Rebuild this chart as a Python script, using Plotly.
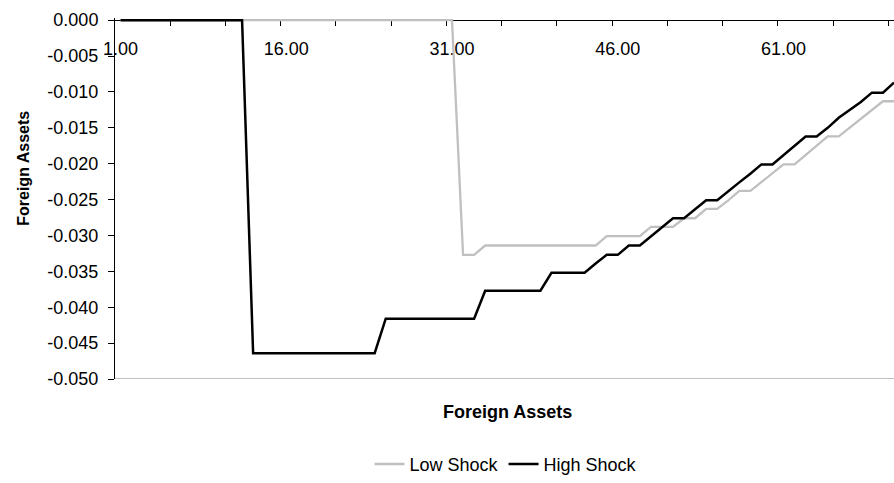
import plotly.graph_objects as go

periods = list(range(1, 72))

low_shock = [
    0, 0, 0, 0, 0, 0, 0, 0, 0, 0,
    0, 0, 0, 0, 0, 0, 0, 0, 0, 0,
    0, 0, 0, 0, 0, 0, 0, 0, 0, 0,
    0, -0.0327, -0.0327, -0.0314, -0.0314, -0.0314, -0.0314, -0.0314, -0.0314, -0.0314,
    -0.0314, -0.0314, -0.0314, -0.0314, -0.0301, -0.0301, -0.0301, -0.0301, -0.0288, -0.0288,
    -0.0288, -0.0276, -0.0276, -0.0263, -0.0263, -0.0251, -0.0238, -0.0238, -0.0226, -0.0214,
    -0.0201, -0.0201, -0.0188, -0.0175, -0.0162, -0.0162, -0.0150, -0.0138, -0.0126, -0.0113,
    -0.0113,
]

high_shock = [
    0, 0, 0, 0, 0, 0, 0, 0, 0, 0,
    0, 0, -0.0464, -0.0464, -0.0464, -0.0464, -0.0464, -0.0464, -0.0464, -0.0464,
    -0.0464, -0.0464, -0.0464, -0.0464, -0.0416, -0.0416, -0.0416, -0.0416, -0.0416, -0.0416,
    -0.0416, -0.0416, -0.0416, -0.0377, -0.0377, -0.0377, -0.0377, -0.0377, -0.0377, -0.0352,
    -0.0352, -0.0352, -0.0352, -0.0339, -0.0327, -0.0327, -0.0314, -0.0314, -0.0301, -0.0288,
    -0.0276, -0.0276, -0.0263, -0.0251, -0.0251, -0.0238, -0.0226, -0.0214, -0.0201, -0.0201,
    -0.0188, -0.0175, -0.0162, -0.0162, -0.0150, -0.0136, -0.0125, -0.0114, -0.0101, -0.0101,
    -0.0087,
]

x_label_vals = [1, 16, 31, 46, 61]
x_label_text = ["1.00", "16.00", "31.00", "46.00", "61.00"]
x_minor_ticks = [5.5, 10.5, 15.5, 20.5, 25.5, 30.5, 35.5, 40.5, 45.5, 50.5, 55.5, 60.5, 65.5, 70.5]
y_tick_vals = [0, -0.005, -0.010, -0.015, -0.020, -0.025, -0.030, -0.035, -0.040, -0.045, -0.050]
y_tick_text = [f"{v:.3f}" for v in y_tick_vals]

FONT = "Arial, Liberation Sans, sans-serif"
Y_MIN, Y_MAX = -0.05, 0.0003

W, H = 894, 483
ML, MT, MB = 115, 18, 101
PW, PH = W - ML, H - MT - MB


def px_x(p):
    return (p - ML) / PW


def px_y(p):
    return (H - MB - p) / PH


fig = go.Figure()
fig.add_trace(go.Scatter(x=periods, y=low_shock, mode="lines", name="Low Shock",
                         line=dict(color="#C0C0C0", width=2.3)))
fig.add_trace(go.Scatter(x=periods, y=high_shock, mode="lines", name="High Shock",
                         line=dict(color="#000000", width=2.5)))

fig.update_layout(
    width=W, height=H,
    margin=dict(l=ML, r=0, t=MT, b=MB),
    paper_bgcolor="white", plot_bgcolor="white",
    font=dict(family=FONT, size=18, color="black"),
    showlegend=True,
    legend=dict(orientation="h", x=px_x(506), xanchor="center", y=px_y(468), yanchor="middle",
                font=dict(size=18), bgcolor="rgba(0,0,0,0)", itemwidth=30),
    xaxis=dict(
        range=[0.5, 71.0], anchor="free", position=(0 - Y_MIN) / (Y_MAX - Y_MIN), side="bottom",
        showline=True, linecolor="black", linewidth=1, layer="below traces",
        showgrid=False, zeroline=False,
        tickmode="array", tickvals=x_label_vals, ticktext=x_label_text,
        ticks="outside", ticklen=5, tickcolor="rgba(0,0,0,0)", ticklabelstandoff=7,
        tickfont=dict(size=18),
        minor=dict(tickmode="array", tickvals=x_minor_ticks, ticks="outside", ticklen=5,
                   tickcolor="black", tickwidth=1, showgrid=False),
    ),
    yaxis=dict(
        range=[Y_MIN, Y_MAX], showline=True, linecolor="black", linewidth=1,
        showgrid=False, zeroline=False,
        tickmode="array", tickvals=y_tick_vals, ticktext=y_tick_text,
        ticks="outside", ticklen=6, tickcolor="black", ticklabelstandoff=6,
        tickfont=dict(size=18),
    ),
    shapes=[dict(type="line", xref="paper", yref="y", x0=0, x1=1, y0=Y_MIN, y1=Y_MIN,
                 line=dict(color="#808080", width=1))],
    annotations=[
        dict(text="<b>Foreign Assets</b>", textangle=-90, xref="paper", yref="paper",
             x=px_x(24), y=px_y(170), xanchor="center", yanchor="middle",
             showarrow=False, font=dict(size=16)),
        dict(text="<b>Foreign Assets</b>", xref="paper", yref="paper",
             x=px_x(507), y=px_y(415), xanchor="center", yanchor="middle",
             showarrow=False, font=dict(size=18)),
    ],
)

fig.write_html(
    "out.html",
    config={"displayModeBar": False},
    post_script=(
        "document.documentElement.style.margin='0';document.body.style.margin='0';"
        "document.documentElement.style.overflow='hidden';document.body.style.overflow='hidden';"
    ),
)
